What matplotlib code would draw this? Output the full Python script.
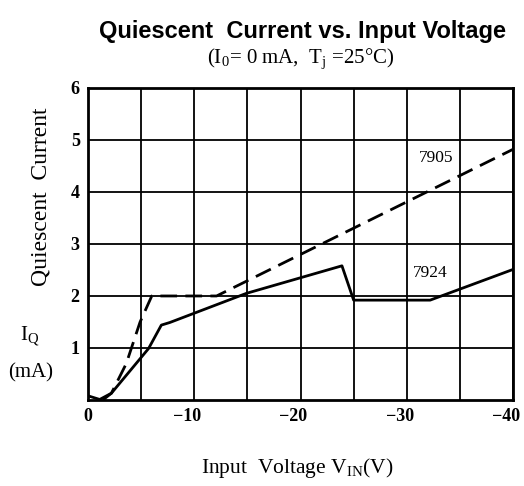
import matplotlib
matplotlib.use("Agg")
import matplotlib.pyplot as plt
import matplotlib.transforms as mtransforms

# 7924 (solid) - input voltage (V) vs quiescent current (mA)
v_7924 = [0, -1.1, -2.2, -5.7, -6.9, -7.7, -14.9, -23.9, -25.0, -32.2, -40]
i_7924 = [0.08, 0.01, 0.13, 0.99, 1.44, 1.49, 2.05, 2.58, 1.92, 1.92, 2.51]

# 7905 (dashed)
v_7905 = [-1.4, -2.2, -3.6, -4.9, -6.0, -12.1, -40]
i_7905 = [0.0, 0.13, 0.70, 1.50, 2.0, 2.0, 4.82]

xticks = [0, -10, -20, -30, -40]
xticklabels = ["0", "\u221210", "\u221220", "\u221230", "\u221240"]
yticks = [1, 2, 3, 4, 5, 6]

plt.rcParams['font.family'] = ['Liberation Serif', 'DejaVu Serif']
plt.rcParams['mathtext.fontset'] = 'custom'
plt.rcParams['mathtext.rm'] = 'Liberation Serif'

fig = plt.figure(figsize=(5.24, 4.86), dpi=100)
ax = fig.add_axes([0.168, 0.177, 0.811, 0.642])

ax.plot(v_7905, i_7905, c="black", lw=2, ls=(0, (6, 3)))
ax.plot(v_7924, i_7924, c="black", lw=2)

ax.set_xlim(0, -40)
ax.set_ylim(0, 6)
ax.set_xticks(xticks)
ax.set_xticklabels(xticklabels)
ax.set_yticks(yticks)
ax.set_xticks([-5, -15, -25, -35], minor=True)
ax.grid(True, which="both", c="black", lw=1.3)
ax.tick_params(which="both", length=0, labelsize=13, pad=6)
for lbl in ax.get_xticklabels() + ax.get_yticklabels():
    lbl.set_fontweight("bold")
# the digits sit on the tick, the minus hangs to the left
shift = mtransforms.ScaledTranslation(-7 / 100, 0, fig.dpi_scale_trans)
for lbl in ax.get_xticklabels()[1:]:
    lbl.set_transform(lbl.get_transform() + shift)
for s in ax.spines.values():
    s.set_linewidth(2)

ax.text(-32.8, 4.65, "7905", fontsize=12.5, ha="center", va="center",
        bbox=dict(fc="white", ec="none", pad=1))
ax.text(-32.2, 2.44, "7924", fontsize=12.5, ha="center", va="center",
        bbox=dict(fc="white", ec="none", pad=1))

fig.text(0.577, 0.935, "Quiescent  Current vs. Input Voltage", fontsize=17,
         fontweight="bold", ha="center", va="center",
         family=["Liberation Sans Narrow", "Liberation Sans", "DejaVu Sans"])
fig.text(0.573, 0.877, r"(I$_\mathregular{0}$= 0 mA,  T$_\mathregular{j}$ =25°C)",
         fontsize=15, ha="center", va="center")
fig.text(0.567, 0.037, r"Input  Voltage V$_\mathregular{IN}$(V)", fontsize=15.5,
         ha="center", va="center")
fig.text(0.078, 0.595, "Quiescent  Current", fontsize=17, rotation=90,
         ha="center", va="center")
fig.text(0.057, 0.307, r"I$_\mathregular{Q}$", fontsize=15, ha="center", va="center")
fig.text(0.059, 0.232, "(mA)", fontsize=15, ha="center", va="center")

fig.savefig("out.png", dpi=100)
